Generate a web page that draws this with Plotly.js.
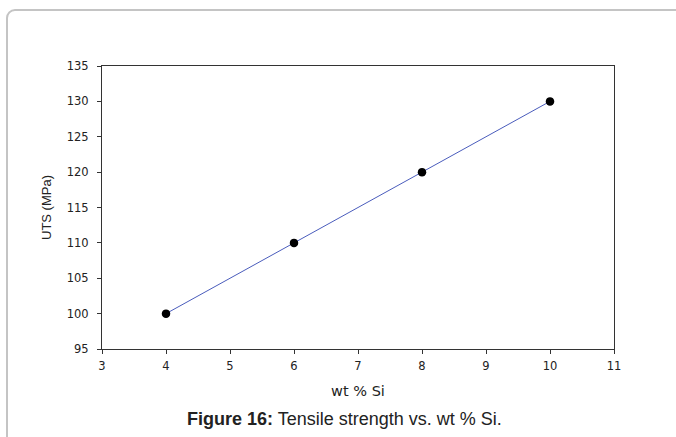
<!DOCTYPE html>
<html>
<head>
<meta charset="utf-8">
<script src="https://cdn.plot.ly/plotly-3.0.1.min.js"></script>
<style>
  html, body { margin: 0; padding: 0; background: #ffffff; }
  #wrap { position: relative; width: 676px; height: 437px; overflow: hidden; }
  #frame { position: absolute; left: 6px; top: 9px; width: 700px; height: 460px;
           border: 2px solid #c4c4c4; border-top-left-radius: 9px; box-sizing: border-box; }
  #chart { position: absolute; left: 0; top: 0; width: 676px; height: 437px; }
</style>
</head>
<body>
<div id="wrap">
  <div id="frame"></div>
  <div id="chart"></div>
</div>
<script>
const wtSi = [4, 6, 8, 10];
const uts = [100, 110, 120, 130];
const xTicks = [3, 4, 5, 6, 7, 8, 9, 10, 11];
const yTicks = [95, 100, 105, 110, 115, 120, 125, 130, 135];

const font = "Arial, 'Liberation Sans', sans-serif";
const wide = "'DejaVu Sans', Verdana, sans-serif";

const trace = {
  x: wtSi,
  y: uts,
  type: 'scatter',
  mode: 'lines+markers',
  line: { color: '#4a5cbc', width: 1 },
  marker: { color: '#000000', size: 8.5, symbol: 'circle' },
  hoverinfo: 'skip'
};

const layout = {
  width: 676,
  height: 437,
  margin: { l: 102, r: 62, t: 66, b: 88 },
  paper_bgcolor: 'rgba(0,0,0,0)',
  plot_bgcolor: '#ffffff',
  showlegend: false,
  font: { family: font, size: 11, color: '#222222' },
  xaxis: {
    range: [3, 11],
    tickvals: xTicks,
    ticktext: xTicks.map(String),
    ticks: 'outside',
    ticklen: 4,
    tickwidth: 1,
    tickcolor: '#333333',
    ticklabelstandoff: 2,
    showline: true,
    linecolor: '#333333',
    linewidth: 1,
    mirror: true,
    showgrid: false,
    zeroline: false,
    automargin: false,
    tickfont: { family: wide, size: 11.5, color: '#222222' },
    title: { text: 'wt % Si', font: { family: wide, size: 14.5, color: '#222222' }, standoff: 14 }
  },
  yaxis: {
    range: [95, 135],
    tickvals: yTicks,
    ticktext: yTicks.map(String),
    ticks: 'outside',
    ticklen: 4,
    tickwidth: 1,
    tickcolor: '#333333',
    ticklabelstandoff: 6,
    showline: true,
    linecolor: '#333333',
    linewidth: 1,
    mirror: true,
    showgrid: false,
    zeroline: false,
    automargin: false,
    tickfont: { family: wide, size: 11.5, color: '#222222' },
    title: { text: 'UTS (MPa)', font: { family: font, size: 13, color: '#222222' }, standoff: 12 }
  },
  annotations: [{
    text: '<b>Figure 16:</b> Tensile strength vs. wt % Si.',
    xref: 'paper', yref: 'paper',
    x: 0.4746, y: -0.247,
    xanchor: 'center', yanchor: 'middle',
    showarrow: false,
    font: { family: font, size: 18, color: '#222222' }
  }]
};

Plotly.newPlot('chart', [trace], layout, { displayModeBar: false, staticPlot: true });
</script>
</body>
</html>
